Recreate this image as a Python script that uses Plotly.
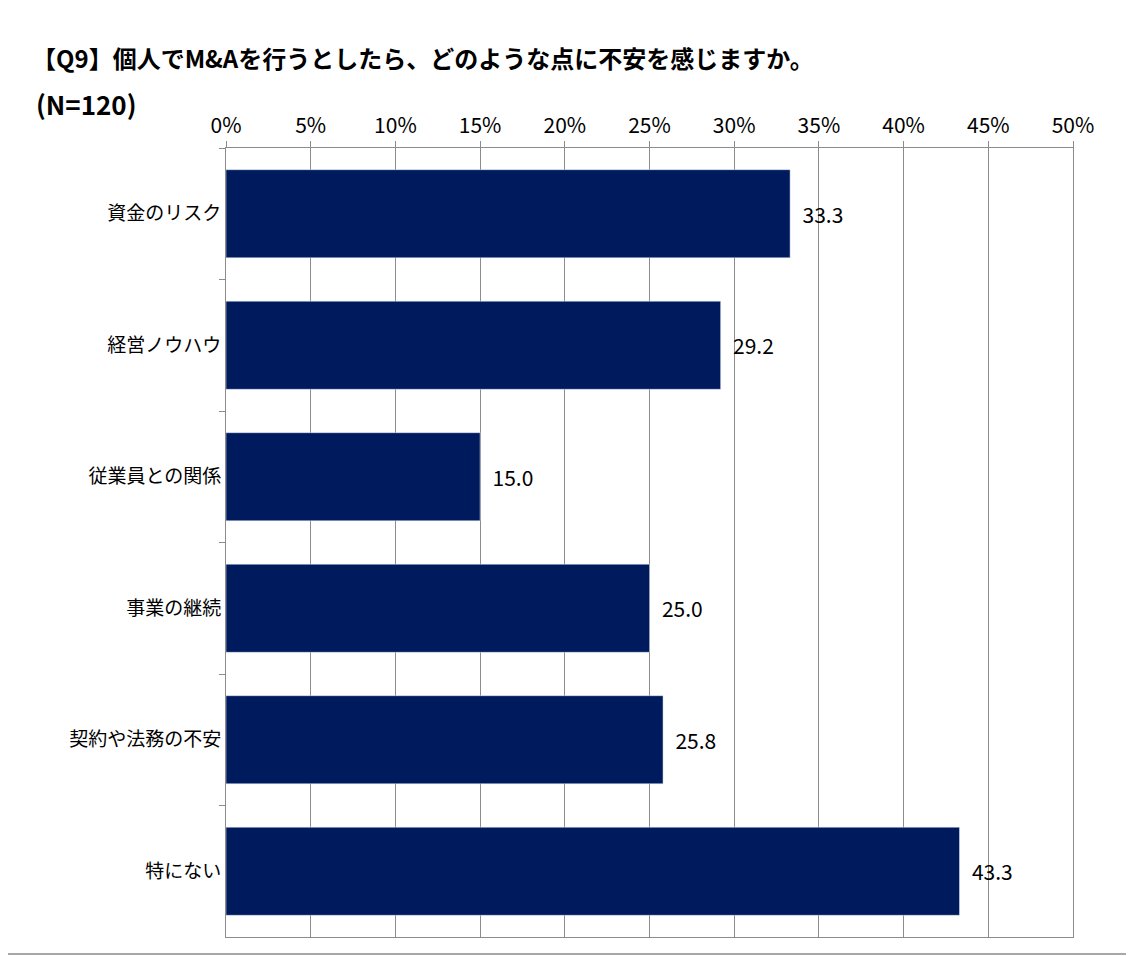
import plotly.graph_objects as go

categories = ["資金のリスク", "経営ノウハウ", "従業員との関係", "事業の継続", "契約や法務の不安", "特にない"]
values = [33.3, 29.2, 15.0, 25.0, 25.8, 43.3]
tick_vals = [0, 5, 10, 15, 20, 25, 30, 35, 40, 45, 50]
tick_text = [f"{v}%" for v in tick_vals]

font = "Verdana, Noto Sans CJK JP"

fig = go.Figure(go.Bar(
    x=values, y=categories, orientation="h",
    marker=dict(color="#001A5E"),
    text=[f"  {v:.1f}" for v in values], textposition="outside",
    textfont=dict(size=21, color="black", family=font),
    cliponaxis=False,
))

# the page body adds an 8px offset, so everything is laid out 8px smaller
off = 8
L, R, T, B = 226 - off, 61, 148 - off, 19
W, H = 1134 - off, 956 - off
pw, ph = W - L - R, H - T - B

fig.update_layout(
    width=W, height=H,
    margin=dict(l=L, r=R, t=T, b=B),
    plot_bgcolor="white", paper_bgcolor="white",
    bargap=0.33, showlegend=False,
    font=dict(family=font, color="black"),
    xaxis=dict(range=[0, 50], side="top", tickvals=tick_vals, ticktext=tick_text,
               tickfont=dict(size=21), showgrid=True, gridcolor="#8C8C8C",
               ticks="outside", ticklen=6, tickcolor="#8C8C8C",
               showline=True, linecolor="#8C8C8C", mirror=True, zeroline=False),
    yaxis=dict(autorange="reversed", tickfont=dict(size=19), ticks="outside",
               tickson="boundaries", ticklen=6, tickcolor="#8C8C8C",
               showline=True, linecolor="#8C8C8C", mirror=True),
    annotations=[
        dict(text="<b>【Q9】個人でM&Aを行うとしたら、どのような点に不安を感じますか。</b>",
             xref="paper", yref="paper", x=-(L - 22) / pw, y=1 + (T - 49) / ph,
             xanchor="left", yanchor="middle", showarrow=False, font=dict(size=24)),
        dict(text="<b>(N=120)</b>",
             xref="paper", yref="paper", x=-(L - 26) / pw, y=1 + (T - 95) / ph,
             xanchor="left", yanchor="middle", showarrow=False, font=dict(size=26)),
    ],
    shapes=[dict(type="rect", xref="paper", yref="paper",
                 x0=-(L - 2 + off) / pw, x1=1 + (R - 2) / pw, y0=-(B - 2) / ph, y1=1 + (T - 2 + off) / ph,
                 line=dict(color="#8C8C8C", width=1.5))],
)

fig.write_html("out.html")
